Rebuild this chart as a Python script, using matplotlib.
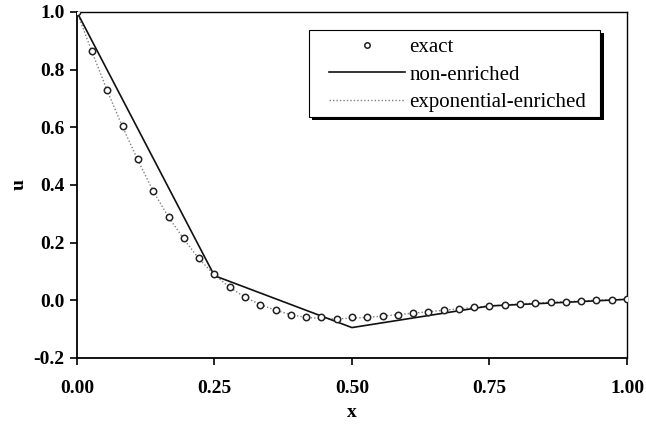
import matplotlib
matplotlib.use("Agg")
import matplotlib.pyplot as plt
from matplotlib.patches import Rectangle

# Exact solution sampled at x = i/36
x_exact = [i / 36 for i in range(37)]
u_exact = [1.0, 0.865, 0.73, 0.605, 0.49, 0.38, 0.29, 0.215, 0.145, 0.09,
           0.045, 0.01, -0.015, -0.035, -0.05, -0.06, -0.06, -0.065, -0.06,
           -0.06, -0.055, -0.05, -0.045, -0.04, -0.035, -0.03, -0.025, -0.02,
           -0.015, -0.013, -0.01, -0.007, -0.005, -0.003, 0.0, 0.002, 0.003]

# Non-enriched FE solution (nodes)
x_non = [0.0, 0.25, 0.5, 0.75, 1.0]
u_non = [1.0, 0.085, -0.095, -0.02, 0.003]

# Exponential-enriched solution
x_enr = x_exact
u_enr = [1.0, 0.86, 0.725, 0.6, 0.485, 0.378, 0.288, 0.212, 0.143, 0.088,
         0.045, 0.01, -0.015, -0.035, -0.05, -0.06, -0.063, -0.065, -0.062,
         -0.06, -0.055, -0.05, -0.045, -0.04, -0.035, -0.03, -0.025, -0.02,
         -0.016, -0.013, -0.01, -0.007, -0.005, -0.003, 0.0, 0.002, 0.003]

xticks = [0.0, 0.25, 0.5, 0.75, 1.0]
xticklabels = ["0.00", "0.25", "0.50", "0.75", "1.00"]
yticks = [-0.2, 0.0, 0.2, 0.4, 0.6, 0.8, 1.0]
yticklabels = ["-0.2", "0.0", "0.2", "0.4", "0.6", "0.8", "1.0"]

plt.rcParams['font.family'] = ['Liberation Serif', 'DejaVu Serif']

fig = plt.figure(figsize=(6.46, 4.24), dpi=100)
ax = fig.add_axes([0.119, 0.156, 0.8516, 0.816])

ax.plot(x_exact, u_exact, linestyle='none', marker='o', markersize=4.6,
        markerfacecolor='white', markeredgecolor='#222222', markeredgewidth=1.1,
        label='exact', zorder=3)
ax.plot(x_non, u_non, color='#111111', linewidth=1.2, label='non-enriched', zorder=2)
ax.plot(x_enr, u_enr, color='#808080', linewidth=1.0, linestyle=(0, (1, 1.5)),
        label='exponential-enriched', zorder=1)

ax.set_xlim(0, 1)
ax.set_ylim(-0.2, 1.0)
ax.set_xticks(xticks)
ax.set_xticklabels(xticklabels, fontweight='bold', fontsize=14)
ax.set_yticks(yticks)
ax.set_yticklabels(yticklabels, fontweight='bold', fontsize=14)
ax.tick_params(direction='out', length=5, width=1.2, pad=4)
ax.tick_params(axis='x', pad=11)

for s in ['left', 'bottom']:
    ax.spines[s].set_linewidth(1.3)
for s in ['top', 'right']:
    ax.spines[s].set_linewidth(1.0)

ax.set_xlabel('x', fontweight='bold', fontsize=14, labelpad=5)
ax.set_ylabel('u', fontweight='bold', fontsize=14, labelpad=4)

# legend frame with solid shadow
fx0, fx1, fy0, fy1 = 0.4218, 0.951, 0.6965, 0.948
sx, sy = 3.5 / 550, 3.5 / 346
ax.add_patch(Rectangle((fx0 + sx, fy0 - sy), fx1 - fx0, fy1 - fy0,
                       transform=ax.transAxes, facecolor='black',
                       edgecolor='none', zorder=5, clip_on=False))
ax.add_patch(Rectangle((fx0, fy0), fx1 - fx0, fy1 - fy0,
                       transform=ax.transAxes, facecolor='white',
                       edgecolor='black', linewidth=0.8, zorder=6, clip_on=False))

leg = ax.legend(loc='upper left', bbox_to_anchor=((329 - 77) / 550, (358 - 38) / 346),
                borderaxespad=0, borderpad=0, frameon=False,
                fontsize=15, numpoints=1, handlelength=3.65, handletextpad=0.2,
                labelspacing=0.37, markerscale=0.85)
leg.set_zorder(7)

fig.savefig('out.png', dpi=100)
